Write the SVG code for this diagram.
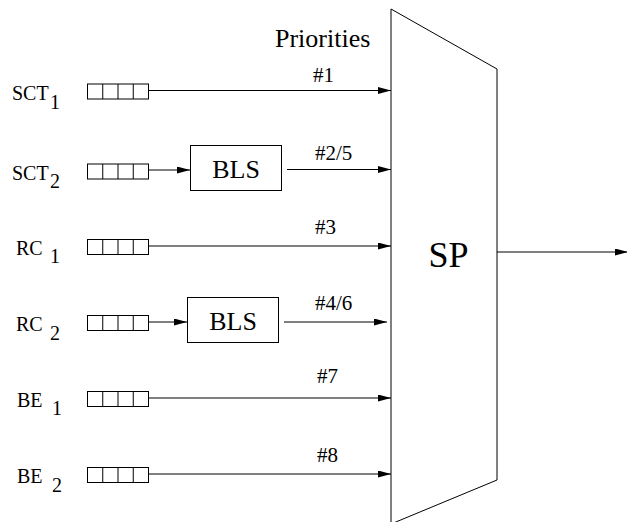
<svg xmlns="http://www.w3.org/2000/svg" width="627" height="522" viewBox="0 0 627 522" font-family="'Liberation Serif', 'Times New Roman', Times, 'DejaVu Serif', serif">
  <style>
    text { font-family: 'Liberation Serif', 'Times New Roman', Times, 'DejaVu Serif', serif; fill: #000; }
    .lbl { font-size: 20px; }
    .pri { font-size: 21px; }
    .big { font-size: 26px; }
    .line { stroke: #000; stroke-width: 1; fill: none; }
    .box { stroke: #000; stroke-width: 1; fill: #fff; }
  </style>
  <defs>
    <marker id="arrow" markerUnits="userSpaceOnUse" markerWidth="14" markerHeight="8" refX="13" refY="3.5" orient="auto">
      <path d="M0,0 L13,3.5 L0,7 z" fill="#000"/>
    </marker>
    <!-- four-slot queue -->
    <g id="queue">
      <rect class="box" x="87.5" y="0" width="61" height="15"/>
      <line class="line" x1="102.75" y1="0" x2="102.75" y2="15"/>
      <line class="line" x1="118" y1="0" x2="118" y2="15"/>
      <line class="line" x1="133.25" y1="0" x2="133.25" y2="15"/>
    </g>
  </defs>

  <rect x="0" y="0" width="627" height="522" fill="#fff"/>

  <!-- strict priority scheduler -->
  <g id="sp">
    <polygon class="box" points="391,9 497,69 497,480 391,524"/>
    <text x="448.5" y="267" font-size="36" text-anchor="middle">SP</text>
  </g>

  <text class="big" x="275" y="47">Priorities</text>

  <!-- queues and their labels -->
  <g id="sct1">
    <use href="#queue" y="84"/>
    <text class="lbl" x="12" y="100">SCT</text>
    <text class="lbl" x="50" y="109">1</text>
  </g>
  <g id="sct2">
    <use href="#queue" y="164"/>
    <text class="lbl" x="12" y="180">SCT</text>
    <text class="lbl" x="50" y="187.5">2</text>
  </g>
  <g id="rc1">
    <use href="#queue" y="239.5"/>
    <text class="lbl" x="16" y="254.5">RC</text>
    <text class="lbl" x="50" y="263">1</text>
  </g>
  <g id="rc2">
    <use href="#queue" y="315.5"/>
    <text class="lbl" x="16" y="330.5">RC</text>
    <text class="lbl" x="50" y="340">2</text>
  </g>
  <g id="be1">
    <use href="#queue" y="391.5"/>
    <text class="lbl" x="17" y="407">BE</text>
    <text class="lbl" x="52" y="415">1</text>
  </g>
  <g id="be2">
    <use href="#queue" y="467.5"/>
    <text class="lbl" x="17" y="483">BE</text>
    <text class="lbl" x="52" y="492">2</text>
  </g>

  <!-- bandwidth limiting shapers -->
  <g id="bls1">
    <rect class="box" x="190.5" y="145.5" width="91" height="45"/>
    <text class="big" x="236" y="178" text-anchor="middle">BLS</text>
  </g>
  <g id="bls2">
    <rect class="box" x="187.5" y="297.5" width="91" height="45"/>
    <text class="big" x="233" y="330" text-anchor="middle">BLS</text>
  </g>

  <!-- connectors -->
  <g id="connectors">
    <line class="line" x1="148.5" y1="90.5" x2="391" y2="90.5" marker-end="url(#arrow)"/>
    <line class="line" x1="148.5" y1="170" x2="190" y2="170" marker-end="url(#arrow)"/>
    <line class="line" x1="287" y1="169.5" x2="391" y2="169.5" marker-end="url(#arrow)"/>
    <line class="line" x1="148.5" y1="246" x2="391" y2="246" marker-end="url(#arrow)"/>
    <line class="line" x1="148.5" y1="322" x2="187" y2="322" marker-end="url(#arrow)"/>
    <line class="line" x1="284" y1="322" x2="387" y2="322" marker-end="url(#arrow)"/>
    <line class="line" x1="148.5" y1="398" x2="391" y2="398" marker-end="url(#arrow)"/>
    <line class="line" x1="148.5" y1="474" x2="391" y2="474" marker-end="url(#arrow)"/>
    <line class="line" x1="497" y1="252" x2="628" y2="252" marker-end="url(#arrow)"/>
  </g>

  <!-- priority labels -->
  <g id="priorities">
    <text class="pri" x="313" y="82">#1</text>
    <text class="pri" x="315" y="160">#2/5</text>
    <text class="pri" x="315" y="233.5">#3</text>
    <text class="pri" x="315" y="310">#4/6</text>
    <text class="pri" x="317" y="383">#7</text>
    <text class="pri" x="317" y="461.5">#8</text>
  </g>
</svg>
